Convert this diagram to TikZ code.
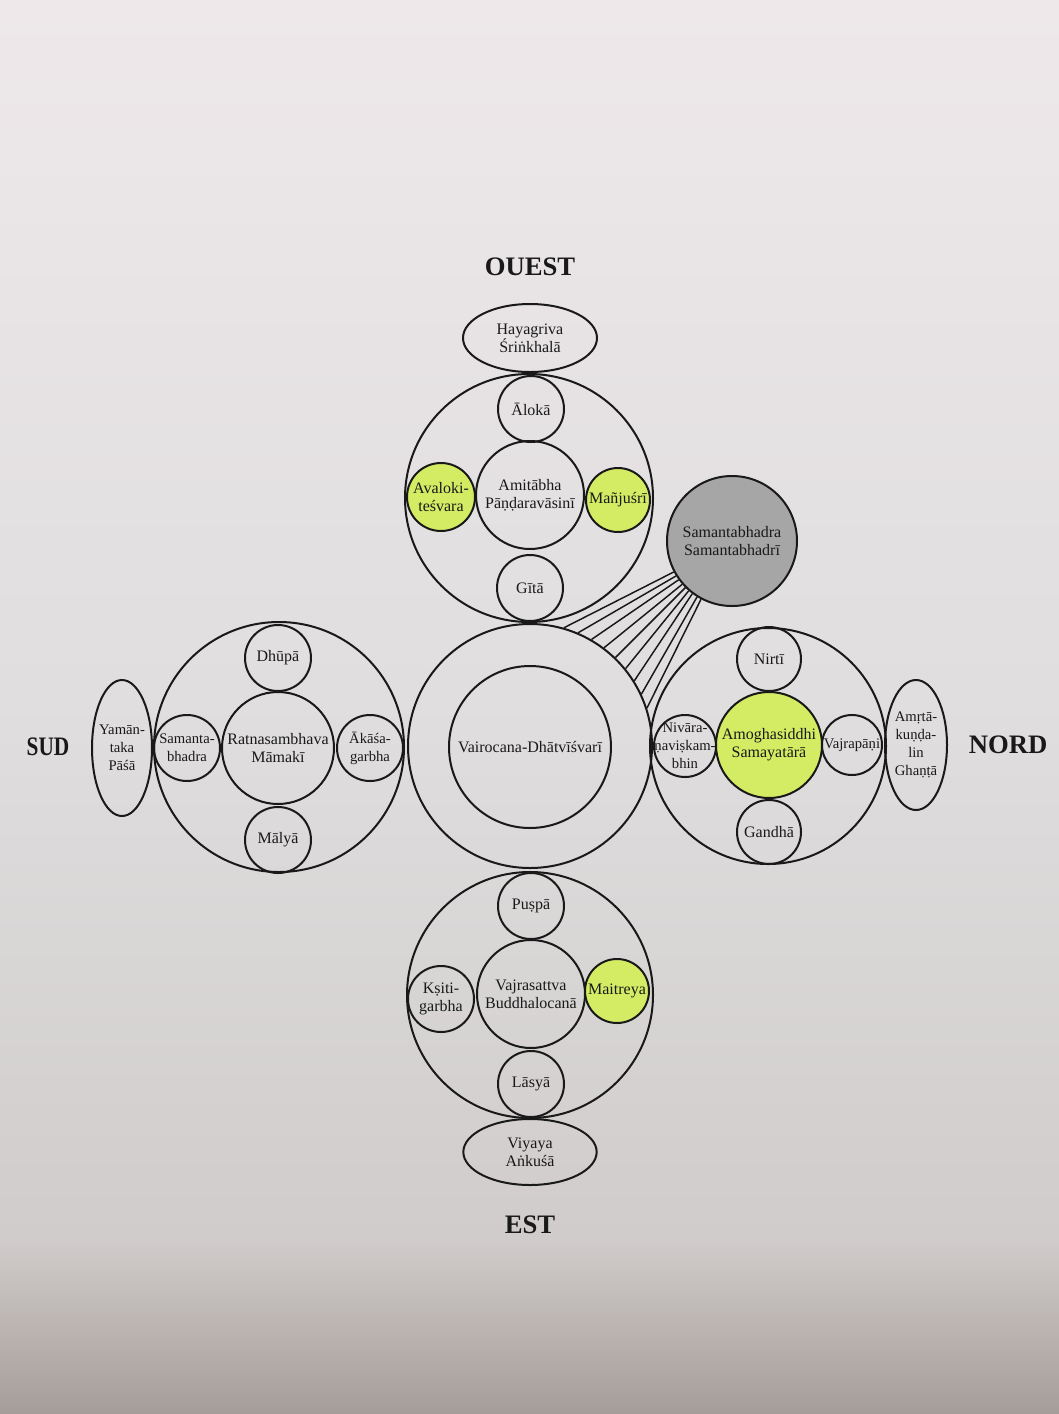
\documentclass[tikz,border=0pt]{standalone}
\usepackage{fontspec}
\setmainfont{Liberation Serif}
\usepackage{xcolor}
\usetikzlibrary{shapes.geometric}
\definecolor{pagetop}{RGB}{238,232,234}
\definecolor{pagemid}{RGB}{224,222,223}
\definecolor{pagelow}{RGB}{208,204,203}
\definecolor{pageend}{RGB}{166,157,153}
\definecolor{marker}{RGB}{212,236,100}
\definecolor{ink}{RGB}{25,25,25}

\begin{document}
\begin{tikzpicture}[x=0.75pt,y=0.75pt]
\tikzstyle{every node}+=[inner sep=0pt, align=center, text=ink, font=\fontsize{12}{13.5}\selectfont]
\tikzstyle{ring}=[draw=ink, circle, line width=1.5pt]
\tikzstyle{core}=[ring, minimum size=81pt]
\tikzstyle{seat}=[ring, minimum size=49.5pt]
\tikzstyle{oval}=[draw=ink, ellipse, line width=1.5pt]
\tikzstyle{quarter}=[font=\fontsize{20}{24}\selectfont\bfseries]
\tikzstyle{narrow}=[font=\fontsize{11}{13.5}\selectfont, inner sep=-8pt]
\useasboundingbox (0,0) rectangle (1059,-1414);
\shade [top color=pagetop, bottom color=pagemid] (0,0) rectangle (1059,-700);
\shade [top color=pagemid, bottom color=pagelow] (0,-700) rectangle (1059,-1240);
\shade [top color=pagelow, bottom color=pageend] (0,-1240) rectangle (1059,-1414);
\node [ring, minimum size=183pt] (vai) at (530,-746) {};
\node [ring, minimum size=121.5pt] (vaicore) at (530,-747) {Vairocana-Dhātvīśvarī};
\node [ring, minimum size=186pt] (west) at (529,-498) {};
\node [core] (amitabha) at (530,-495) {Amitābha\\Pāṇḍaravāsinī};
\node [seat] (aloka) at (531,-409) {Ālokā};
\node [seat] (gita) at (530,-588) {Gītā};
\node [seat, fill=marker, minimum size=51pt] (avalok) at (441,-497) {Avaloki-\\teśvara};
\node [seat, fill=marker, minimum size=48pt] (manju) at (618,-500) {Mañjuśrī};
\node [oval, minimum width=100.5pt, minimum height=51pt] (haya) at (530,-338) {Hayagriva\\Śriṅkhalā};
\node [quarter] (ouest) at (530,-267) {OUEST};
\node [ring, minimum size=184.5pt] (east) at (530,-995) {};
\node [core] (vajrasattva) at (531,-994) {Vajrasattva\\Buddhalocanā};
\node [seat] (puspa) at (531,-906) {Puṣpā};
\node [seat] (lasya) at (531,-1084) {Lāsyā};
\node [seat] (ksiti) at (441,-999) {Kṣiti-\\garbha};
\node [seat, fill=marker, minimum size=48pt] (maitreya) at (617,-991) {Maitreya};
\node [oval, minimum width=100pt, minimum height=49.5pt] (viyaya) at (530,-1152) {Viyaya\\Aṅkuśā};
\node [quarter] (est) at (530,-1225) {EST};
\node [ring, minimum size=187.5pt] (south) at (279,-747) {};
\node [core, minimum size=84pt] (ratna) at (278,-748) {Ratnasambhava\\Māmakī};
\node [seat] (dhupa) at (278,-658) {Dhūpā};
\node [seat] (malya) at (278,-840) {Mālyā};
\node [seat, narrow] (samanta) at (187,-748) {Samanta-\\bhadra};
\node [seat, narrow] (akasa) at (370,-748) {Ākāśa-\\garbha};
\node [oval, narrow, minimum width=45pt, minimum height=102pt] (yama) at (122,-748) {Yamān-\\taka\\Pāśā};
\node [quarter, transform shape, xscale=0.8] (sud) at (48,-747) {SUD};
\node [ring, minimum size=177pt] (north) at (768,-746) {};
\node [core, fill=marker, minimum size=79.5pt] (amogha) at (769,-745) {Amoghasiddhi\\Samayatārā};
\node [seat, minimum size=48pt] (nirti) at (769,-659) {Nirtī};
\node [seat, minimum size=48pt] (gandha) at (769,-832) {Gandhā};
\node [seat, narrow, minimum size=46.5pt] (nivarana) at (685,-746) {Nivāra-\\ṇaviṣkam-\\bhin};
\node [seat, narrow, minimum size=45pt] (vajrapani) at (852,-745) {Vajrapāṇi};
\node [oval, narrow, minimum width=46.5pt, minimum height=97.5pt] (amrta) at (916,-745) {Amṛtā-\\kuṇḍa-\\lin\\Ghaṇṭā};
\node [quarter] (nord) at (1008,-745) {NORD};
\node [ring, fill=black!35, minimum size=97.5pt] (sam) at (732,-541) {Samantabhadra\\Samantabhadrī};
\draw [ink, line width=1.1pt] (sam.208) -- (vai.74);
\draw [ink, line width=1.1pt] (sam.212) -- (vai.67);
\draw [ink, line width=1.1pt] (sam.216) -- (vai.60);
\draw [ink, line width=1.1pt] (sam.221) -- (vai.53);
\draw [ink, line width=1.1pt] (sam.225) -- (vai.46);
\draw [ink, line width=1.1pt] (sam.229) -- (vai.39);
\draw [ink, line width=1.1pt] (sam.233) -- (vai.32);
\draw [ink, line width=1.1pt] (sam.238) -- (vai.25);
\draw [ink, line width=1.1pt] (sam.242) -- (vai.18);
\end{tikzpicture}
\end{document}
